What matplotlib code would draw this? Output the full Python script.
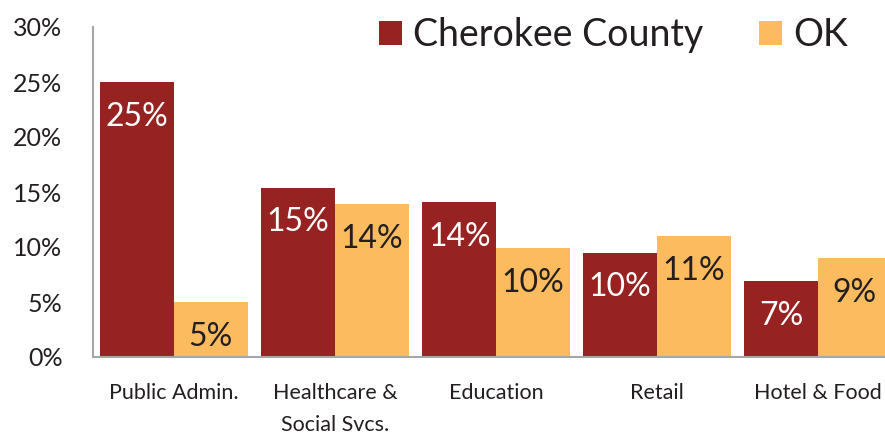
import matplotlib
matplotlib.use("Agg")
import matplotlib.pyplot as plt
import numpy as np

categories = ["Public Admin.", "Healthcare &\nSocial Svcs.", "Education", "Retail", "Hotel & Food"]
cherokee = [25.0, 15.4, 14.1, 9.5, 6.9]
ok = [5.0, 13.9, 9.9, 11.0, 9.0]
cherokee_labels = ["25%", "15%", "14%", "10%", "7%"]
ok_labels = ["5%", "14%", "10%", "11%", "9%"]
yticks = [0, 5, 10, 15, 20, 25, 30]

RED = "#962221"
ORANGE = "#FDBB5F"
TXT = "#231F20"

plt.rcParams['font.family'] = ['Lato', 'DejaVu Sans']

fig = plt.figure(figsize=(8.85, 4.42), dpi=100)
W, H = 885, 442
ax = fig.add_axes([93 / W, (H - 357) / H, (885 - 93) / W, (357 - 27) / H])

x = np.arange(len(categories))
bw = 0.457
b1 = ax.bar(x - bw / 2, cherokee, bw, color=RED, label="Cherokee County")
b2 = ax.bar(x + bw / 2, ok, bw, color=ORANGE, label="OK")

for rect, lab in zip(b1, cherokee_labels):
    ax.annotate(lab, (rect.get_x() + rect.get_width() / 2, rect.get_height()),
                xytext=(0, -25), textcoords="offset points", ha="center", va="center",
                color="white", fontsize=23)
for rect, lab in zip(b2, ok_labels):
    ax.annotate(lab, (rect.get_x() + rect.get_width() / 2, rect.get_height()),
                xytext=(0, -25), textcoords="offset points", ha="center", va="center",
                color=TXT, fontsize=23)

ax.set_xlim(-0.503, 4.416)
ax.set_ylim(0, 30)
ax.set_yticks(yticks)
ax.set_yticklabels([f"{v}%" for v in yticks], fontsize=18, color=TXT)
ax.set_xticks(x)
ax.set_xticklabels(categories, fontsize=15.5, color=TXT, linespacing=1.75)
ax.tick_params(axis="both", length=0)
ax.tick_params(axis="y", pad=22)
ax.tick_params(axis="x", pad=19)

for s in ["top", "right"]:
    ax.spines[s].set_visible(False)
for s in ["left", "bottom"]:
    ax.spines[s].set_color("#A6A6A6")
    ax.spines[s].set_linewidth(1.5)
ax.spines["left"].set_bounds(0, 30)

leg = ax.legend(loc="upper right", bbox_to_anchor=(0.972, 1.075), ncol=2, frameon=False,
                fontsize=27, handlelength=0.6, handleheight=0.6, handletextpad=0.3,
                columnspacing=1.5, borderaxespad=0)
for t in leg.get_texts():
    t.set_color(TXT)

fig.savefig("out.png", dpi=100)
